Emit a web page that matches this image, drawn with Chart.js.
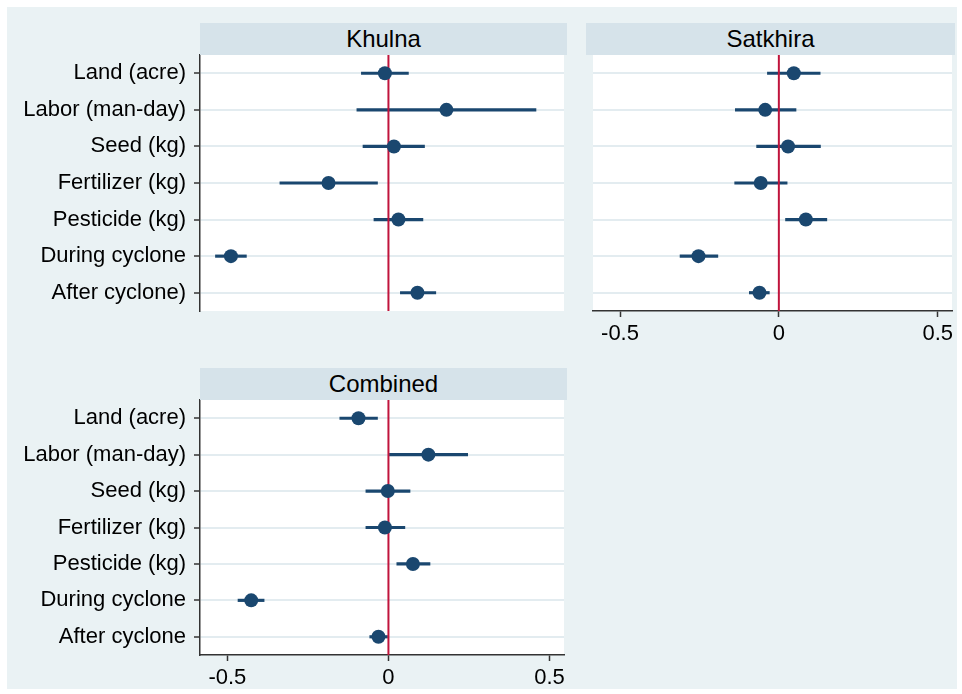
<!DOCTYPE html>
<html>
<head>
<meta charset="utf-8">
<script src="https://cdn.jsdelivr.net/npm/chart.js@4"></script>
<style>
  body { margin: 0; background: #fff; width: 962px; height: 694px; position: relative; overflow: hidden; font-family: "Liberation Sans", Arial, sans-serif; }
  .bg { position: absolute; left: 7px; top: 7px; width: 950px; height: 682px; background: #eaf2f4; }
  .strip { position: absolute; background: #d6e3ea; color: #000; font-size: 24px; display: flex; align-items: center; justify-content: center; z-index: 2; }
  canvas { position: absolute; z-index: 1; }
</style>
</head>
<body>
<div class="bg"></div>
<div class="strip" style="left:200px;top:23px;width:367px;height:32px">Khulna</div>
<div class="strip" style="left:586px;top:23px;width:369px;height:32px">Satkhira</div>
<div class="strip" style="left:200px;top:368px;width:367px;height:32px">Combined</div>
<canvas id="khulna" width="571" height="304" style="left:0;top:31px"></canvas>
<canvas id="satkhira" width="373" height="320" style="left:586px;top:31px"></canvas>
<canvas id="combined" width="571" height="319" style="left:0;top:376px"></canvas>
<script>
// row labels (Khulna panel has the stray bracket in the original)
const khulnaLabels = ["Land (acre)", "Labor (man-day)", "Seed (kg)", "Fertilizer (kg)", "Pesticide (kg)", "During cyclone", "After cyclone)"];
const combinedLabels = ["Land (acre)", "Labor (man-day)", "Seed (kg)", "Fertilizer (kg)", "Pesticide (kg)", "During cyclone", "After cyclone"];

// point estimates and confidence limits
const khulnaEst = [-0.011, 0.18, 0.017, -0.186, 0.031, -0.489, 0.09];
const khulnaLo = [-0.084, -0.098, -0.079, -0.337, -0.045, -0.537, 0.037];
const khulnaHi = [0.062, 0.458, 0.112, -0.034, 0.107, -0.441, 0.147];

const satkhiraEst = [0.047, -0.043, 0.029, -0.057, 0.085, -0.253, -0.061];
const satkhiraLo = [-0.036, -0.137, -0.07, -0.139, 0.021, -0.311, -0.093];
const satkhiraHi = [0.13, 0.054, 0.131, 0.026, 0.151, -0.192, -0.03];

const combinedEst = [-0.093, 0.124, -0.002, -0.011, 0.076, -0.426, -0.031];
const combinedLo = [-0.151, 0.003, -0.07, -0.07, 0.026, -0.467, -0.058];
const combinedHi = [-0.034, 0.246, 0.067, 0.051, 0.129, -0.386, -0.003];

const xTicks = [-0.5, 0, 0.5];
const xMin = -0.585;
const xMax = 0.545;
const refLine = 0;

const navy = "#1a476f";
const red = "#c0143c";
const axisColor = "#333";
const gridColor = "#e3ecf0";
const font = { family: "'Liberation Sans', Arial, sans-serif", size: 22 };

//white plot region
const plotBg = {
  id: "plotBg",
  beforeDraw(chart) {
    const { ctx, chartArea: a } = chart;
    ctx.save();
    ctx.fillStyle = "#fff";
    ctx.fillRect(a.left, a.top, a.width, a.height);
    ctx.restore();
  },
};

//red line at zero, over the CI bars but under the dots
const zeroLine = {
  id: "zeroLine",
  afterDatasetDraw(chart, args) {
    if (args.index !== 1) return;
    const { ctx, chartArea: a } = chart;
    const x = chart.scales.x.getPixelForValue(refLine);
    ctx.save();
    ctx.strokeStyle = red;
    ctx.lineWidth = 2;
    ctx.beginPath();
    ctx.moveTo(x, a.top);
    ctx.lineTo(x, a.bottom);
    ctx.stroke();
    ctx.restore();
  },
};

const makePanel = (id, labels, est, lo, hi, showY, showX) => {
  new Chart(document.getElementById(id), {
    type: "bar",
    data: {
      labels: labels,
      datasets: [
        {
          type: "line",
          data: est,
          showLine: false,
          pointRadius: 7,
          pointBackgroundColor: navy,
          pointBorderWidth: 0,
          order: 0,
        },
        {
          type: "bar",
          data: lo.map((l, i) => [l, hi[i]]),
          backgroundColor: navy,
          barThickness: 2.5,
          borderWidth: 0,
          order: 1,
        },
      ],
    },
    options: {
      indexAxis: "y",
      responsive: false,
      animation: false,
      layout: { padding: { top: 24, right: 4, bottom: showX ? 0 : 24, left: 0 } },
      plugins: { legend: { display: false }, tooltip: { enabled: false } },
      scales: {
        x: {
          type: "linear",
          min: xMin,
          max: xMax,
          afterBuildTicks: (s) => {
            s.ticks = xTicks.map((v) => ({ value: v }));
          },
          afterFit: (s) => {
            s.height = showX ? 40 : 0;
          },
          border: { display: showX, color: axisColor, width: 1.5 },
          grid: {
            drawOnChartArea: false,
            drawTicks: showX,
            tickLength: 6,
            tickColor: axisColor,
            tickWidth: 1.5,
          },
          ticks: {
            display: showX,
            color: "#000",
            font: font,
            padding: 4,
            maxRotation: 0,
            callback: (v) => String(v),
          },
        },
        y: {
          type: "category",
          offset: true,
          afterFit: (s) => {
            s.width = showY ? 200 : 0;
          },
          border: { display: showY, color: axisColor, width: 1.5 },
          grid: {
            offset: false,
            color: gridColor,
            lineWidth: 2,
            drawTicks: showY,
            tickLength: 6,
            tickColor: axisColor,
            tickWidth: 1.5,
          },
          ticks: { display: showY, color: "#000", font: font, padding: 8 },
        },
      },
    },
    plugins: [plotBg, zeroLine],
  });
};

makePanel("khulna", khulnaLabels, khulnaEst, khulnaLo, khulnaHi, true, false);
makePanel("satkhira", khulnaLabels, satkhiraEst, satkhiraLo, satkhiraHi, false, true);
makePanel("combined", combinedLabels, combinedEst, combinedLo, combinedHi, true, true);
</script>
</body>
</html>
